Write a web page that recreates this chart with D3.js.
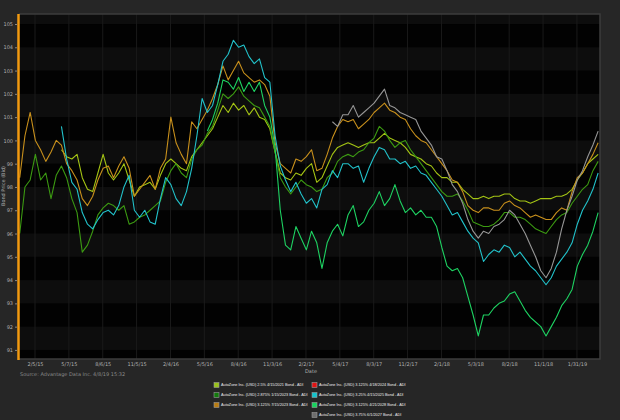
<!DOCTYPE html>
<html>
<head>
<meta charset="utf-8">
<script src="https://cdn.jsdelivr.net/npm/d3@7"></script>
<style>
  body { margin: 0; background: #262626; }
  text { font-family: "DejaVu Sans", sans-serif; }
</style>
</head>
<body>
<div id="chart"></div>
<script>
// sample grid: every 14 days from 12/26/2014
const startDate = new Date(2014, 11, 26)
const stepDays = 14

const tickLabels = ['2/5/15', '5/7/15', '8/6/15', '11/5/15', '2/4/16', '5/5/16', '8/4/16', '11/3/16',
  '2/2/17', '5/4/17', '8/3/17', '11/2/17', '2/1/18', '5/3/18', '8/2/18', '11/1/18', '1/31/19']
const yTicks = [91, 92, 93, 94, 95, 96, 97, 98, 99, 100, 101, 102, 103, 104, 105]

const names = [
  'AutoZone Inc. (USD) 2.5% 4/15/2021 Bond - ADI',
  'AutoZone Inc. (USD) 2.875% 1/15/2023 Bond - ADI',
  'AutoZone Inc. (USD) 3.125% 7/15/2023 Bond - ADI',
  'AutoZone Inc. (USD) 3.125% 4/18/2024 Bond - ADI',
  'AutoZone Inc. (USD) 3.25% 4/15/2025 Bond - ADI',
  'AutoZone Inc. (USD) 3.125% 4/21/2028 Bond - ADI',
  'AutoZone Inc. (USD) 3.75% 6/1/2027 Bond - ADI'
]
const swatchColors = ['#99c21a', '#137a0c', '#b97d12', '#e01414', '#12c4cc', '#16d45e', '#6e6e6e']
const lineColors = ['#a4c414', '#3c9a12', '#c8901c', '#e01414', '#22c2ca', '#1ed262', '#969696']

// values (null = not yet issued)
const bond2021 = [null, null, null, null, null, null, null, null,
  99.6, 99.3, 99.2, 99.4, 98.4, 97.9, 97.8, 98.6, 99.4, 98.6, 98.3, 98.6,
  99.0, 98.3, 97.6, 98.0, 98.1, 98.2, 97.9, 98.5, 99.0, 99.2, 99.0, 98.8,
  98.7, 99.3, 99.6, 99.9, 100.2, 100.5, 101.0, 101.5, 101.2, 101.6, 101.3, 101.5,
  101.1, 101.4, 101.0, 100.9, 100.5, 99.5, 98.6, 98.4, 98.3, 98.6, 98.5, 98.8,
  99.0, 98.2, 98.4, 98.9, 99.4, 99.7, 99.8, 99.9, 99.8, 99.7, 99.8, 99.9,
  99.9, 100.1, 100.3, 100.1, 100.0, 99.9, 99.7, 99.4, 99.3, 99.2, 99.0, 98.9,
  98.6, 98.4, 98.4, 98.2, 98.2, 97.9, 97.7, 97.5, 97.5, 97.6, 97.5, 97.6,
  97.6, 97.7, 97.7, 97.5, 97.4, 97.4, 97.3, 97.4, 97.5, 97.5, 97.5, 97.6,
  97.6, 97.7, 97.9, 98.3, 98.6, 99.0, 99.2, 99.4]
const bond2023a = [96.0, 98.0, 98.3, 99.4, 98.3, 98.6, 97.5, 98.5, 98.9, 98.4, 97.5, 96.9,
  95.2, 95.5, 96.1, 96.8, 97.1, 97.3, 97.2, 97.0, 97.2, 96.4, 96.5, 96.7,
  96.8, 97.0, 97.2, 97.4, 98.2, 98.7, 99.0, 98.6, 98.4, 99.2, 99.6, 99.8,
  100.3, 100.6, 101.3, 102.0, 101.8, 102.0, 102.3, 101.9, 101.7, 101.5, 101.4, 101.0,
  100.6, 99.5, 98.4, 98.0, 97.7, 98.0, 98.3, 98.1, 98.0, 97.8, 97.9, 98.4,
  98.6, 99.1, 99.3, 99.4, 99.3, 99.5, 99.6, 99.9, 100.1, 100.6, 100.4, 100.0,
  99.7, 99.9, 100.0, 99.6, 99.3, 99.0, 98.7, 98.4, 98.1, 97.8, 97.6, 97.6,
  97.7, 97.4, 97.0, 96.5, 96.4, 96.3, 96.3, 96.4, 96.6, 96.9, 96.9, 96.7,
  96.7, 96.6, 96.4, 96.2, 96.1, 96.0, 96.3, 96.6, 96.8, 96.9, 97.3, 97.6,
  97.9, 98.1, 98.7, 99.1]
const bond2023b = [98.4, 100.2, 101.2, 100.0, 99.6, 99.1, 99.5, 100.0, 99.8, 99.0, 98.7, 98.3,
  97.5, 97.2, 97.6, 98.3, 98.8, 98.9, 98.4, 98.9, 99.3, 98.8, 97.6, 97.9,
  98.2, 98.5, 97.9, 98.8, 99.2, 101.0, 99.9, 99.4, 99.0, 100.8, 100.5, 100.9,
  101.3, 101.8, 102.4, 103.2, 102.6, 103.0, 103.4, 102.9, 102.7, 102.5, 102.6, 102.4,
  101.9, 99.9, 99.0, 98.8, 98.6, 99.2, 99.1, 99.3, 99.6, 98.7, 98.8, 99.4,
  100.1, 100.6, 100.9, 100.8, 100.9, 100.5, 100.7, 100.9, 101.2, 101.4, 101.6, 101.3,
  101.2, 101.0, 100.9, 100.5, 100.2, 100.0, 99.9, 99.6, 99.3, 99.0, 98.7, 98.3,
  98.2, 97.8, 97.2, 97.0, 96.9, 97.1, 97.1, 97.0, 97.0, 97.3, 97.4, 97.2,
  97.1, 96.9, 96.7, 96.8, 96.7, 96.6, 96.6, 96.9, 97.1, 97.0, 97.8, 98.4,
  98.6, 99.0, 99.4, 99.9]
const bond2024 = []
const bond2025 = [null, null, null, null, null, null, null, null,
  100.6, 99.2, 98.2, 97.9, 96.9, 96.4, 96.2, 96.6, 96.9, 97.0, 96.8, 97.2,
  98.0, 98.5, 97.0, 96.7, 97.0, 96.5, 96.4, 97.5, 98.4, 98.1, 97.5, 97.2,
  97.8, 98.8, 100.2, 101.8, 101.2, 101.5, 102.4, 103.4, 103.7, 104.3, 104.0, 104.1,
  103.6, 103.3, 103.5, 102.7, 102.5, 100.2, 98.9, 98.3, 97.8, 98.2, 97.7, 97.3,
  97.5, 97.1, 97.9, 98.1, 98.7, 98.4, 99.0, 99.0, 98.8, 98.9, 98.2, 98.8,
  99.3, 99.7, 99.6, 99.2, 99.2, 99.0, 99.1, 98.8, 98.9, 98.6, 98.5, 98.2,
  97.9, 97.6, 97.2, 96.8, 96.9, 96.5, 96.1, 95.8, 95.6, 94.8, 95.1, 95.3,
  95.2, 95.5, 95.4, 95.0, 95.2, 94.9, 94.6, 94.4, 94.1, 93.8, 94.1, 94.6,
  94.9, 95.2, 95.6, 96.4, 97.0, 97.4, 97.9, 98.6]
const bond2028 = [null, null, null, null, null, null, null, null, null, null, null, null,
  null, null, null, null, null, null, null, null, null, null, null, null,
  null, null, null, null, null, null, null, null, null, null, null, null,
  100.4, 100.9, 101.6, 102.6, 102.5, 102.2, 102.7, 102.1, 102.5, 102.1, 102.5, 101.5,
  101.0, 99.7, 97.0, 95.5, 95.3, 96.3, 95.8, 95.3, 96.1, 95.6, 94.5, 95.6,
  96.1, 96.4, 95.9, 96.8, 97.2, 96.3, 96.5, 97.0, 97.3, 97.8, 97.2, 97.5,
  98.1, 97.4, 96.9, 97.1, 96.8, 97.0, 96.7, 96.7, 96.3, 95.4, 94.6, 94.4,
  94.5, 94.1, 93.3, 92.5, 91.6, 92.5, 92.5, 92.8, 93.0, 93.1, 93.4, 93.5,
  93.1, 92.7, 92.4, 92.2, 92.0, 91.6, 92.0, 92.4, 92.9, 93.2, 93.6, 94.6,
  95.1, 95.5, 96.1, 96.9]
const bond2027 = [null, null, null, null, null, null, null, null, null, null, null, null,
  null, null, null, null, null, null, null, null, null, null, null, null,
  null, null, null, null, null, null, null, null, null, null, null, null,
  null, null, null, null, null, null, null, null, null, null, null, null,
  null, null, null, null, null, null, null, null, null, null, null, null,
  100.8, 100.6, 101.1, 101.1, 101.5, 101.0, 101.2, 101.4, 101.6, 101.9, 102.2, 101.5,
  101.4, 101.2, 101.1, 101.0, 100.9, 100.4, 100.1, 99.8, 99.3, 99.2, 98.7, 98.1,
  97.8, 97.3, 96.6, 96.1, 95.8, 96.1, 96.0, 96.3, 96.4, 96.6, 97.0, 96.8,
  96.4, 96.0, 95.5, 95.0, 94.4, 94.1, 94.5, 95.2, 96.2, 97.0, 97.6, 98.3,
  98.7, 99.3, 99.8, 100.4]

const series = [bond2021, bond2023a, bond2023b, bond2024, bond2025, bond2028, bond2027]

const W = 620, H = 420
const plotL = 19, plotR = 600, plotT = 14, plotB = 359

const parse = d3.timeParse('%m/%d/%y')
const x = d3.scaleTime()
  .domain([new Date(2014, 11, 24), new Date(2019, 3, 3)])
  .range([plotL, plotR])
const y = d3.scaleLinear()
  .domain([90.61, 105.43])
  .range([plotB, plotT])

const dateAt = i => d3.timeDay.offset(startDate, i * stepDays)

const svg = d3.select('#chart').append('svg')
  .attr('width', W)
  .attr('height', H)

svg.append('rect').attr('width', W).attr('height', H).attr('fill', '#262626')

// plot background
svg.append('rect')
  .attr('x', plotL).attr('y', plotT)
  .attr('width', plotR - plotL).attr('height', plotB - plotT)
  .attr('fill', '#020202')

// alternating bands
const bandEdges = [90.61].concat(yTicks).concat([105.43])
for (let i = 0; i < bandEdges.length - 1; i++) {
  const lo = bandEdges[i], hi = bandEdges[i + 1]
  if (Math.floor(lo) % 2 === 1) {
    svg.append('rect')
      .attr('x', plotL).attr('width', plotR - plotL)
      .attr('y', y(hi)).attr('height', y(lo) - y(hi))
      .attr('fill', '#0d0d0d')
  }
}

// vertical grid
svg.append('g')
  .selectAll('line')
  .data(tickLabels)
  .enter()
  .append('line')
  .attr('x1', d => x(parse(d))).attr('x2', d => x(parse(d)))
  .attr('y1', plotT).attr('y2', plotB)
  .attr('stroke', '#1a1a1a')
  .attr('stroke-width', 1)

// lines
const line = d3.line()
  .defined(d => d != null)
  .x((d, i) => x(dateAt(i)))
  .y(d => y(d))

svg.append('g')
  .selectAll('path')
  .data(series)
  .enter()
  .append('path')
  .attr('d', d => line(d))
  .attr('fill', 'none')
  .attr('stroke', (d, i) => lineColors[i])
  .attr('stroke-width', 1.1)
  .attr('stroke-linejoin', 'round')

// frame
svg.append('path')
  .attr('d', `M${plotL},${plotT}H${plotR}V${plotB}H${plotL}`)
  .attr('fill', 'none')
  .attr('stroke', '#3c3c3c')
  .attr('stroke-width', 1.5)
svg.append('line')
  .attr('x1', plotL - 0.5).attr('x2', plotL - 0.5)
  .attr('y1', plotT).attr('y2', plotB + 1)
  .attr('stroke', '#f29a10')
  .attr('stroke-width', 2.5)

// axes
const yaxis = d3.axisLeft(y)
  .tickValues(yTicks)
  .tickSize(2)
  .tickPadding(2)
  .tickFormat(d3.format('d'))
const yg = svg.append('g')
  .attr('transform', `translate(${plotL - 2},0)`)
  .call(yaxis)
yg.select('.domain').remove()
yg.selectAll('line').attr('stroke', '#888')
yg.selectAll('text').attr('fill', '#b0b0b0').style('font-size', '5px')

const xaxis = d3.axisBottom(x)
  .tickValues(tickLabels.map(parse))
  .tickSize(0)
  .tickPadding(3)
  .tickFormat(d3.timeFormat('%-m/%-d/%y'))
const xg = svg.append('g')
  .attr('transform', `translate(0,${plotB})`)
  .call(xaxis)
xg.select('.domain').remove()
xg.selectAll('text').attr('fill', '#b0b0b0').style('font-size', '5px')

// titles
svg.append('text')
  .text('Date')
  .attr('x', 311).attr('y', 373)
  .attr('text-anchor', 'middle')
  .attr('fill', '#b0b0b0')
  .style('font-size', '5px')

svg.append('text')
  .text('Bond Price (Bid)')
  .attr('transform', `translate(5,186) rotate(-90)`)
  .attr('text-anchor', 'middle')
  .attr('fill', '#b0b0b0')
  .style('font-size', '5px')

svg.append('text')
  .text('Source: Advantage Data Inc. 4/8/19 15:32')
  .attr('x', 20).attr('y', 376)
  .attr('fill', '#8a8a8a')
  .style('font-size', '5px')

// legend
const legendPos = [[214, 385], [214, 395], [214, 405], [312, 385], [312, 395], [312, 405], [312, 415]]
const lg = svg.append('g')
  .selectAll('g')
  .data(names)
  .enter()
  .append('g')
  .attr('transform', (d, i) => `translate(${legendPos[i][0]},${legendPos[i][1]})`)
lg.append('rect')
  .attr('x', 0).attr('y', -2.5)
  .attr('width', 5).attr('height', 5)
  .attr('fill', (d, i) => swatchColors[i])
  .attr('stroke', '#9a9a9a')
  .attr('stroke-width', 0.6)
lg.append('text')
  .text(d => d)
  .attr('x', 7).attr('y', 1.4)
  .attr('fill', '#ececec')
  .style('font-family', '"Liberation Sans", Arial, sans-serif')
  .style('font-size', '3.8px')
</script>
</body>
</html>
